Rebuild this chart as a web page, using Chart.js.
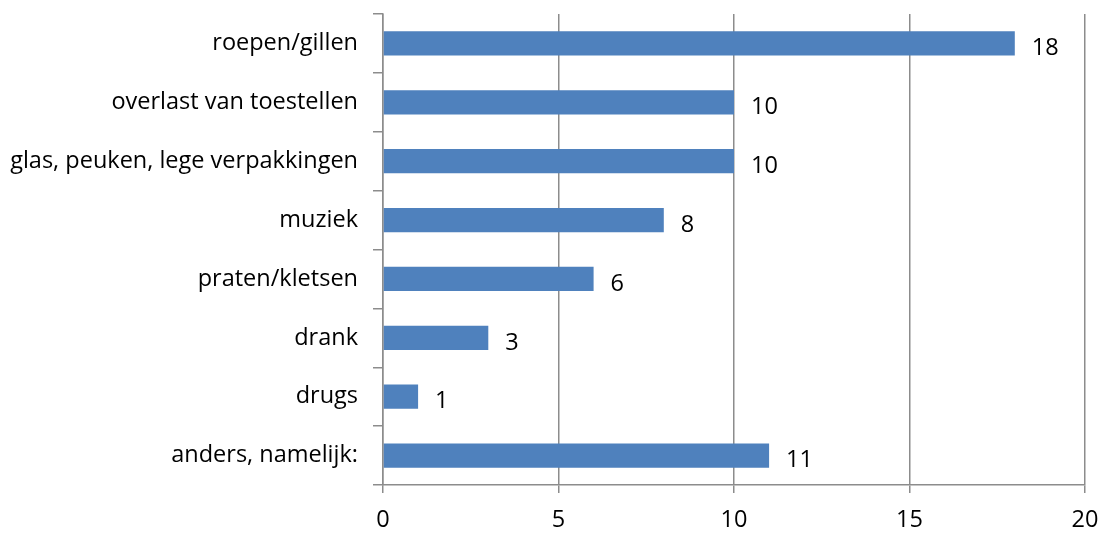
<!DOCTYPE html>
<html>
<head>
<meta charset="utf-8">
<script src="https://cdn.jsdelivr.net/npm/chart.js@4"></script>
<style>
  html, body { margin: 0; padding: 0; background: #fff; }
  #wrap { width: 1107px; height: 533px; }
</style>
</head>
<body>
<div id="wrap"><canvas id="bar-chart"></canvas></div>
<script>
const categories = ['roepen/gillen', 'overlast van toestellen', 'glas, peuken, lege verpakkingen', 'muziek', 'praten/kletsen', 'drank', 'drugs', 'anders, namelijk:'];
const counts = [18, 10, 10, 8, 6, 3, 1, 11];
const xTicks = [0, 5, 10, 15, 20];

const gridGray = '#8c8c8c';
const fontFamily = "'Open Sans', 'Liberation Sans', Arial, sans-serif";
const fontSize = 23.5;

// draws the value next to each bar
const valueLabels = {
	id: 'valueLabels',
	afterDatasetsDraw(chart) {
		const ctx = chart.ctx;
		const meta = chart.getDatasetMeta(0);
		ctx.save();
		ctx.fillStyle = '#000';
		ctx.font = fontSize + 'px ' + fontFamily;
		ctx.textAlign = 'left';
		ctx.textBaseline = 'middle';
		meta.data.forEach((bar, i) => {
			ctx.fillText(String(counts[i]), bar.x + 17, bar.y + 5);
		});
		ctx.restore();
	}
};

new Chart(document.getElementById('bar-chart'), {
	type: 'bar',
	data: {
		labels: categories,
		datasets: [{
			data: counts,
			backgroundColor: '#4f81bd',
			borderWidth: 0,
			categoryPercentage: 1,
			barPercentage: 0.41
		}]
	},
	options: {
		indexAxis: 'y',
		responsive: true,
		maintainAspectRatio: false,
		animation: false,
		layout: { padding: { top: 14, right: 22, left: 0, bottom: 0 } },
		plugins: {
			legend: { display: false },
			tooltip: { enabled: false }
		},
		scales: {
			x: {
				min: 0,
				max: 20,
				afterBuildTicks: (scale) => {
					scale.ticks = xTicks.map(v => ({ value: v }));
				},
				afterFit: (scale) => {
					scale.height = 48;
					scale.paddingLeft = 0;
					scale.paddingRight = 0;
				},
				grid: {
					color: gridGray,
					lineWidth: 1.5,
					tickLength: 8,
					drawTicks: true
				},
				border: { color: gridGray, width: 1.5 },
				ticks: {
					color: '#000',
					padding: 13,
					font: { family: fontFamily, size: fontSize }
				}
			},
			y: {
				afterFit: (scale) => {
					scale.width = 383;
					scale.paddingTop = 0;
					scale.paddingBottom = 0;
				},
				grid: {
					offset: true,
					drawOnChartArea: false,
					color: gridGray,
					lineWidth: 1.5,
					tickLength: 10
				},
				border: { color: gridGray, width: 1.5 },
				ticks: {
					color: '#000',
					padding: 15,
					font: { family: fontFamily, size: fontSize }
				}
			}
		}
	},
	plugins: [valueLabels]
});
</script>
</body>
</html>
